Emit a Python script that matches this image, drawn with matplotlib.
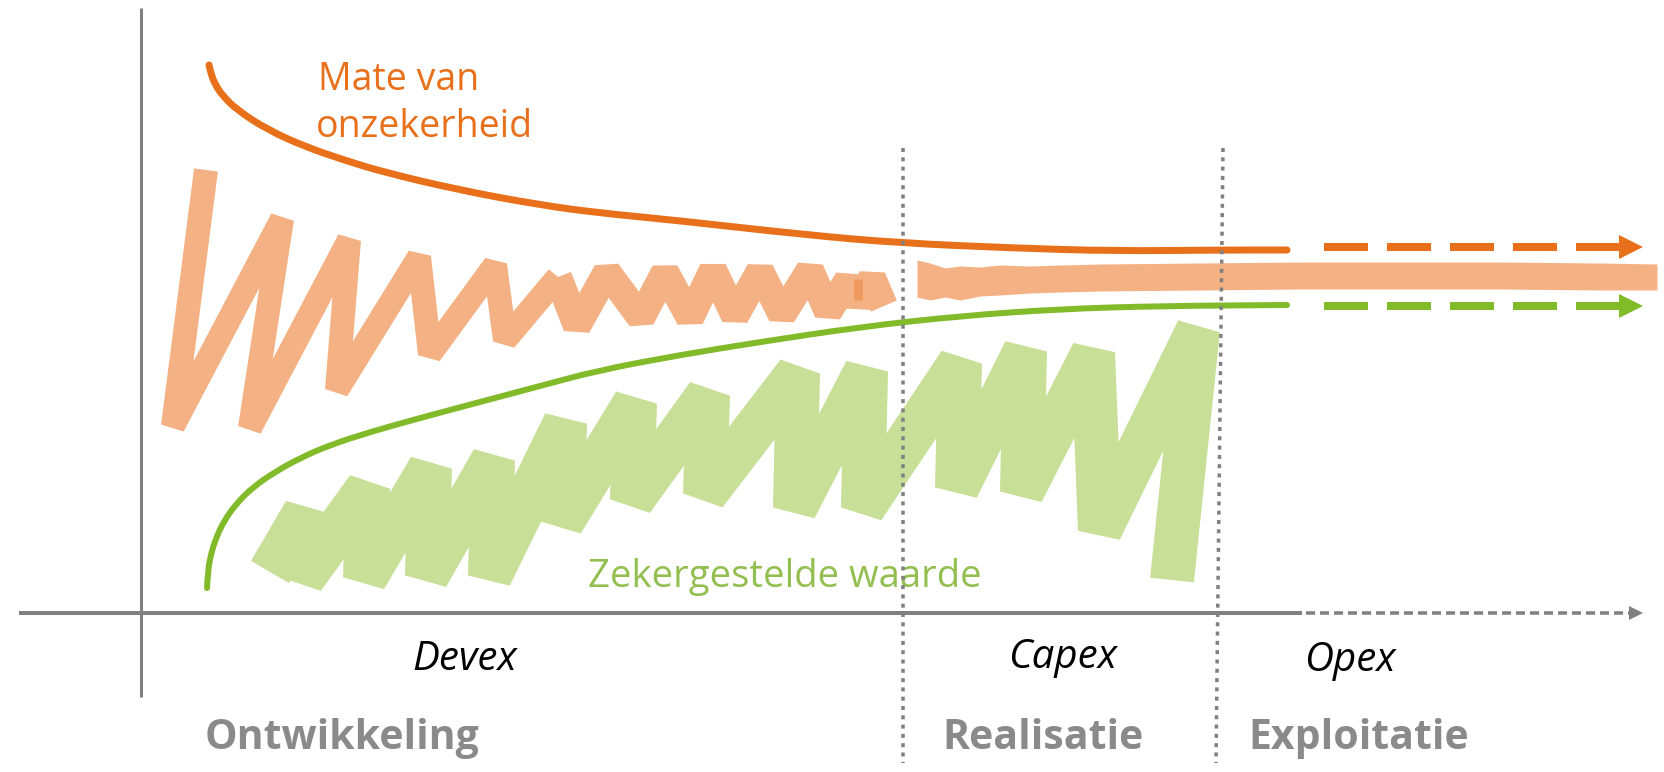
import numpy as np
import matplotlib
matplotlib.use("Agg")
import matplotlib.pyplot as plt
from matplotlib.path import Path
from matplotlib.patches import PathPatch

plt.rcParams['font.family'] = ['Open Sans', 'DejaVu Sans']
plt.rcParams['lines.scale_dashes'] = False

# curves (image pixel coordinates, y downwards)
orange_curve_x = [209, 211, 215, 222, 237, 268, 306, 344, 383, 459, 540, 600, 673, 807, 900, 1013, 1113, 1222, 1287]
orange_curve_y = [65, 74, 84, 95, 110, 130, 147, 160, 172, 190, 205, 213, 220, 235, 243, 248, 251, 250, 250]
green_curve_x = [207, 208, 211, 216, 224, 236, 253, 275, 300, 330, 370, 420, 480, 540, 600, 680, 760, 860,
                 960, 1060, 1160, 1287]
green_curve_y = [588, 570, 554, 538, 521, 504, 487, 472, 458, 445, 432, 418, 402, 386, 370, 355, 342, 327,
                 316, 309, 306, 305]

# uncertainty scribble (zigzag), first phase
orange_zig_x = [206, 173, 282, 250, 349, 337, 419, 430, 495, 505, 558, 577, 607, 641, 665, 690, 713,
                735, 760, 782, 810, 828, 848, 858, 872, 884]
orange_zig_y = [170, 426, 219, 428, 240, 390, 257, 354, 265, 340, 277, 326, 272, 318, 272, 318, 270,
                316, 271, 315, 270, 312, 280, 303, 278, 306]
# uncertainty band, later phases
orange_band_x = [917, 930, 945, 960, 980, 1000, 1030, 1060, 1100, 1200, 1300, 1400, 1500, 1600, 1657]
orange_band_top = [260, 263, 268, 266, 267, 265, 266, 265, 264, 263, 262, 262, 262, 263, 264]
orange_band_bot = [297, 300, 297, 300, 296, 295, 293, 292, 291, 290, 289, 289, 289, 290, 290]

# secured value scribble
green_zig_x = [270, 305, 303, 368, 365, 430, 427, 493, 490, 565, 562, 635, 632, 708, 705, 798, 795,
               866, 863, 960, 957, 1025, 1022, 1093, 1100, 1198, 1172]
green_zig_y = [572, 512, 578, 488, 578, 468, 576, 460, 576, 423, 522, 403, 500, 395, 494, 373, 508,
               371, 508, 363, 488, 351, 492, 353, 530, 330, 580]

phase_bounds_top = [903, 1223]
phase_bounds_bot = [903, 1216]
phase_names = ['Ontwikkeling', 'Realisatie', 'Exploitatie']
cost_names = ['Devex', 'Capex', 'Opex']

ORANGE = '#e8701a'
ORANGE_LIGHT = '#f4b183'
GREEN = '#82bb2a'
GREEN_LIGHT = '#c8df98'
GREEN_TEXT = '#93bf50'
GREY = '#808080'


def smooth(xs, ys):
    # quadratic b-spline through the read points, drawn as a path
    pts = np.column_stack([xs, ys]).astype(float)
    verts = [pts[0]]
    codes = [Path.MOVETO]
    for i in range(1, len(pts) - 1):
        verts += [pts[i], (pts[i] + pts[i + 1]) / 2]
        codes += [Path.CURVE3, Path.CURVE3]
    verts.append(pts[-1])
    codes.append(Path.LINETO)
    return Path(verts, codes)


fig = plt.figure(figsize=(16.65, 7.72), dpi=100)
ax = fig.add_axes([0, 0, 1, 1])
ax.set_xlim(0, 1665)
ax.set_ylim(772, 0)
ax.axis('off')

px = 0.72  # points per pixel

# axes of the diagram
ax.plot([141, 141], [8, 697], color=GREY, lw=3 * px, solid_capstyle='butt')
ax.plot([19, 1302], [613, 613], color=GREY, lw=4 * px, solid_capstyle='butt')
ax.plot([1306, 1632], [613, 613], color=GREY, lw=3.5 * px, dashes=(9 * px, 5 * px))
ax.plot([1636], [613], marker='>', color=GREY, markersize=10, markeredgewidth=0)

# scribbles: wide strokes early, denser and thicker towards the end of development
ax.plot(orange_zig_x[:11], orange_zig_y[:11], color=ORANGE_LIGHT, lw=24 * px,
        solid_joinstyle='bevel', solid_capstyle='butt', zorder=2)
ax.plot(orange_zig_x[10:], orange_zig_y[10:], color=ORANGE_LIGHT, lw=28 * px,
        solid_joinstyle='bevel', solid_capstyle='butt', zorder=2)
ax.plot([858, 858], [279, 300], color='#ef9a5e', lw=9 * px, solid_capstyle='butt', zorder=2)
ax.fill_between(orange_band_x, orange_band_top, orange_band_bot, color=ORANGE_LIGHT, lw=0, zorder=2)
ax.plot(green_zig_x, green_zig_y, color=GREEN_LIGHT, lw=44 * px,
        solid_joinstyle='bevel', solid_capstyle='butt', zorder=2)

# curves + dashed continuation
ax.add_patch(PathPatch(smooth(orange_curve_x, orange_curve_y), fill=False, edgecolor=ORANGE,
                       lw=7 * px, capstyle='round', zorder=3))
ax.add_patch(PathPatch(smooth(green_curve_x, green_curve_y), fill=False, edgecolor=GREEN,
                       lw=6 * px, capstyle='round', zorder=3))
for y, c in [(orange_curve_y[-1] - 3, ORANGE), (green_curve_y[-1] + 1, GREEN)]:
    ax.plot([1324, 1620], [y, y], color=c, lw=8 * px, dashes=(44 * px, 19 * px),
            solid_capstyle='butt', zorder=3)
    ax.plot([1631], [y], marker='>', color=c, markersize=17, markeredgewidth=0, zorder=3)

# phase boundaries
for xt, xb in zip(phase_bounds_top, phase_bounds_bot):
    ax.plot([xt, xb], [148, 763], color=GREY, lw=3.5 * px, dashes=(4 * px, 5.3 * px), zorder=5)

# labels
ax.text(318, 90, 'Mate van', color=ORANGE, fontsize=27, ha='left', va='baseline')
ax.text(316, 137, 'onzekerheid', color=ORANGE, fontsize=27, ha='left', va='baseline')
ax.text(588, 587, 'Zekergestelde waarde', color=GREEN_TEXT, fontsize=27.5, ha='left', va='baseline')

for name, x, y in zip(cost_names, [412, 1008, 1304], [670, 668, 671]):
    ax.text(x, y, name, color='black', fontsize=29, style='italic', ha='left', va='baseline')
for name, x in zip(phase_names, [205, 942, 1248]):
    ax.text(x, 749, name, color='#8a8a8a', fontsize=29.5, fontweight='bold', ha='left', va='baseline')

fig.savefig('out.png', dpi=100)
